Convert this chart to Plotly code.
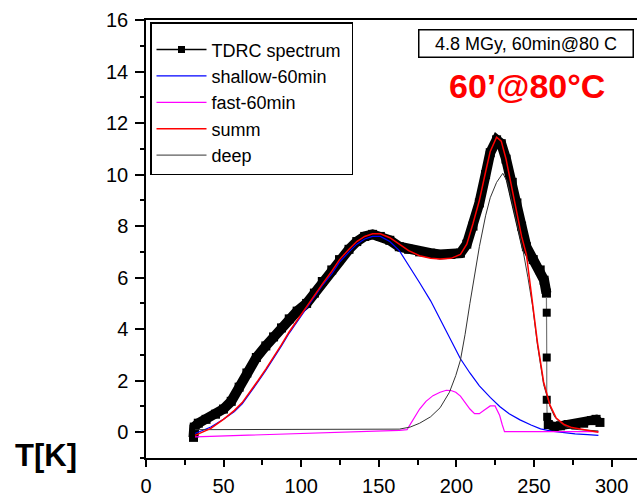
import plotly.graph_objects as go

# ---------------- data ----------------
tdrc_T = [30.6, 31.1, 33.7, 38.7, 44.8, 49.9, 54.9, 60, 65, 71.1, 77.2, 82.2, 87.3, 92.3, 97.4, 103.5,
          108.5, 113.6, 119.7, 124.7, 130.8, 135.8, 140.9, 146, 151, 157.1, 163.2, 169.2, 176.3, 183.4,
          189.5, 196.5, 202.6, 206.7, 210.7, 214.8, 218.8, 221.8, 225.9, 228.9, 232, 236, 239, 242,
          245.1, 249.5, 254, 256.5, 258,
          258.2, 258.2, 258.2, 258.5,
          259.2, 263, 267, 272, 277, 282, 287, 290, 292.5]
tdrc_I = [-0.2, 0.2, 0.35, 0.5, 0.7, 0.9, 1.2, 1.75, 2.3, 2.9, 3.35, 3.7, 4.05, 4.4, 4.7, 5.0,
          5.4, 5.85, 6.3, 6.7, 7.1, 7.4, 7.6, 7.68, 7.6, 7.45, 7.2, 7.1, 7.0, 6.95,
          6.9, 6.9, 6.95, 7.3, 8.0, 8.9, 10.0, 10.85, 11.35, 11.2, 10.6, 9.7, 8.9, 8.0,
          7.2, 6.7, 6.3, 5.9, 5.4,
          4.64, 2.9, 1.26, 0.6,
          0.3, 0.22, 0.25, 0.3, 0.3, 0.35, 0.45, 0.5, 0.38]
MAIN_END = 49   # dense band
DROP_END = 53   # sparse drop

shallow_T = [31.6, 41.8, 49.9, 57, 62, 67, 72.1, 77.2, 82.2, 87.3, 92.3, 97.4, 103.5, 108.5, 113.6,
             119.7, 124.7, 130.8, 135.8, 140.9, 146, 151, 157.1, 163.2, 169.2, 176.3, 183.4, 189.5,
             196.5, 202.6, 208.7, 214.8, 221.8, 227.9, 234, 241, 248.1, 254.2, 261.3, 268.4, 276.5,
             284.6, 291.5]
shallow_I = [-0.05, 0.2, 0.5, 0.8, 1.1, 1.5, 1.95, 2.4, 2.85, 3.35, 3.85, 4.3, 4.8, 5.25, 5.7, 6.15, 6.6,
             7.0, 7.3, 7.5, 7.6, 7.6, 7.4, 7.05, 6.5, 5.8, 5.1, 4.4, 3.6, 2.85, 2.3, 1.8, 1.35, 1.0,
             0.72, 0.48, 0.28, 0.13, 0.04, -0.02, -0.06, -0.09, -0.12]

fast_T = [31.6, 62, 102.5, 142.9, 163.2, 168.2, 172.3, 176.3, 180.4, 184.9, 189.5, 193.5, 196.5,
          199.6, 202.6, 205.6, 208.7, 211.7, 214.8, 217.8, 221.8, 224.9, 227.9, 229.5, 231, 244, 264,
          291.5]
fast_I = [-0.18, -0.12, -0.05, 0.02, 0.07, 0.1, 0.5, 0.9, 1.2, 1.42, 1.55, 1.63, 1.62, 1.55, 1.4,
          1.15, 0.9, 0.72, 0.72, 0.85, 1.02, 1.02, 0.65, 0.3, 0.02, 0.02, 0.02, 0.02]

summ_T = [31.6, 41.8, 49.9, 57, 62, 67, 72.1, 77.2, 82.2, 87.3, 92.3, 97.4, 103.5, 108.5, 113.6,
          119.7, 124.7, 130.8, 135.8, 140.9, 146, 151, 157.1, 163.2, 169.2, 176.3, 183.4, 189.5,
          196.5, 202.6, 206.7, 210.7, 214.8, 218.8, 221.8, 225.9, 228.9, 232, 236, 239, 242, 245.1,
          249.1, 252.2, 256.2, 260.3, 264.3, 269.4, 274.4, 281.5, 288.6, 291.5]
summ_I = [-0.12, 0.15, 0.5, 0.85, 1.15, 1.55, 2.0, 2.45, 2.9, 3.4, 3.9, 4.35, 4.85, 5.3, 5.75, 6.25,
          6.7, 7.1, 7.4, 7.6, 7.7, 7.7, 7.55, 7.3, 7.05, 6.85, 6.75, 6.72, 6.75, 6.9, 7.3, 8.1, 9.0,
          10.1, 10.9, 11.45, 11.3, 10.6, 9.4, 8.4, 7.6, 6.9, 5.1, 3.5, 1.95, 1.05, 0.55, 0.3, 0.18,
          0.1, 0.03, 0.0]

deep_T = [31.6, 62, 102.5, 142.9, 163.2, 170.2, 176.3, 183.4, 189.5, 195.5, 199.6, 202.6, 205.6,
          208.7, 211.7, 214.8, 218.8, 221.8, 225.9, 229.9, 233, 236, 240, 243.1, 246.1, 249.1, 252.2,
          256.2, 260.3, 263.3, 266.3, 270.4, 274.4, 281.5, 288.6, 291.5]
deep_I = [0.1, 0.1, 0.1, 0.1, 0.12, 0.2, 0.35, 0.6, 0.95, 1.55, 2.2, 2.8, 3.8, 5.0, 6.1, 7.2, 8.4,
          9.1, 9.7, 10.05, 9.7, 8.9, 7.8, 7.0, 6.0, 4.9, 3.4, 1.85, 1.0, 0.6, 0.4, 0.22, 0.12, 0.08,
          0.06, 0.05]

x_ticks = [0, 50, 100, 150, 200, 250, 300]
y_ticks = [0, 2, 4, 6, 8, 10, 12, 14, 16]

# ---------------- figure ----------------
W, H = 637, 496
ML, MR, MT, MB = 146, 0, 20, 38
FONT = "Liberation Sans, Arial, sans-serif"
NB = "\u00a0"

fig = go.Figure()

# TDRC spectrum: dense band, sparse drop, dense tail
fig.add_trace(go.Scatter(x=tdrc_T[:MAIN_END], y=tdrc_I[:MAIN_END], mode="lines+markers",
                         line=dict(color="black", width=10), marker=dict(symbol="square", size=9, color="black"),
                         showlegend=False, hoverinfo="skip"))
fig.add_trace(go.Scatter(x=tdrc_T[MAIN_END - 1:DROP_END + 1], y=tdrc_I[MAIN_END - 1:DROP_END + 1],
                         mode="lines+markers",
                         line=dict(color="#777777", width=1.2), marker=dict(symbol="square", size=8, color="black"),
                         showlegend=False, hoverinfo="skip"))
fig.add_trace(go.Scatter(x=tdrc_T[DROP_END:], y=tdrc_I[DROP_END:], mode="lines+markers",
                         line=dict(color="black", width=9), marker=dict(symbol="square", size=9, color="black"),
                         showlegend=False, hoverinfo="skip"))
# legend-only entry for TDRC
fig.add_trace(go.Scatter(x=[None], y=[None], mode="lines+markers", name="TDRC spectrum" + NB,
                         line=dict(color="black", width=1.5), marker=dict(symbol="square", size=7, color="black"),
                         legendgroup="a", legendrank=1))

fig.add_trace(go.Scatter(x=shallow_T, y=shallow_I, mode="lines", name="shallow-60min",
                         line=dict(color="#0000ff", width=1.2), legendgroup="b", legendrank=2))
fig.add_trace(go.Scatter(x=fast_T, y=fast_I, mode="lines", name="fast-60min",
                         line=dict(color="#ff00ff", width=1.2), legendgroup="c", legendrank=3))
fig.add_trace(go.Scatter(x=deep_T, y=deep_I, mode="lines", name="deep",
                         line=dict(color="#333333", width=1), legendgroup="e", legendrank=5))
fig.add_trace(go.Scatter(x=summ_T, y=summ_I, mode="lines", name="summ",
                         line=dict(color="#ff0000", width=1.5), legendgroup="d", legendrank=4))

pw = W - ML - MR
ph = H - MT - MB


def px2paper(px, py):
    return (px - ML) / pw, (H - MB - py) / ph


lx, ly = px2paper(150, 22)
fig.update_layout(
    width=W, height=H,
    margin=dict(l=ML, r=MR, t=MT, b=MB, pad=0),
    paper_bgcolor="white", plot_bgcolor="white",
    font=dict(family=FONT, color="black"),
    showlegend=True,
    legend=dict(x=lx, y=ly, xanchor="left", yanchor="top",
                bgcolor="white", bordercolor="black", borderwidth=1.5,
                font=dict(family=FONT, size=18, color="black"),
                title=dict(text=NB, font=dict(size=6)),
                tracegroupgap=3, traceorder="normal",
                itemwidth=50),
    xaxis=dict(range=[0, pw / 1.552], tickmode="array", tickvals=x_ticks,
               showgrid=False, zeroline=False, showline=True, linecolor="black", linewidth=1.5,
               mirror=True, ticks="outside", ticklen=7, tickwidth=1.5, tickcolor="black",
               tickfont=dict(family=FONT, size=20, color="black"), ticklabelstandoff=2,
               minor=dict(dtick=25, tick0=0, ticks="outside", ticklen=5, tickwidth=1.5, tickcolor="black")),
    yaxis=dict(range=[-1, 16], tickmode="array", tickvals=y_ticks,
               showgrid=False, zeroline=False, showline=True, linecolor="black", linewidth=1.5,
               ticks="outside", ticklen=9, tickwidth=1.5, tickcolor="black",
               tickfont=dict(family=FONT, size=20, color="black"), ticklabelstandoff=3,
               minor=dict(dtick=1, tick0=0, ticks="outside", ticklen=4, tickwidth=1.5, tickcolor="black")),
)

bx, by = px2paper(525.5, 43)
tx, ty = px2paper(527, 86)
kx, ky = px2paper(46, 455)
fig.add_annotation(xref="paper", yref="paper", x=bx, y=by, xanchor="center", yanchor="middle",
                   text="4.8 MGy, 60min@80 C", showarrow=False,
                   font=dict(family=FONT, size=18, color="black"),
                   bordercolor="black", borderwidth=1.5, bgcolor="white", width=211, height=24)
fig.add_annotation(xref="paper", yref="paper", x=tx, y=ty, xanchor="center", yanchor="middle",
                   text="<b>60’@80°C</b>", showarrow=False,
                   font=dict(family=FONT, size=34, color="#ff0000"))
fig.add_annotation(xref="paper", yref="paper", x=kx, y=ky, xanchor="center", yanchor="middle",
                   text="<b>T[K]</b>", showarrow=False,
                   font=dict(family=FONT, size=31, color="black"))

fig.write_html("out.html")
